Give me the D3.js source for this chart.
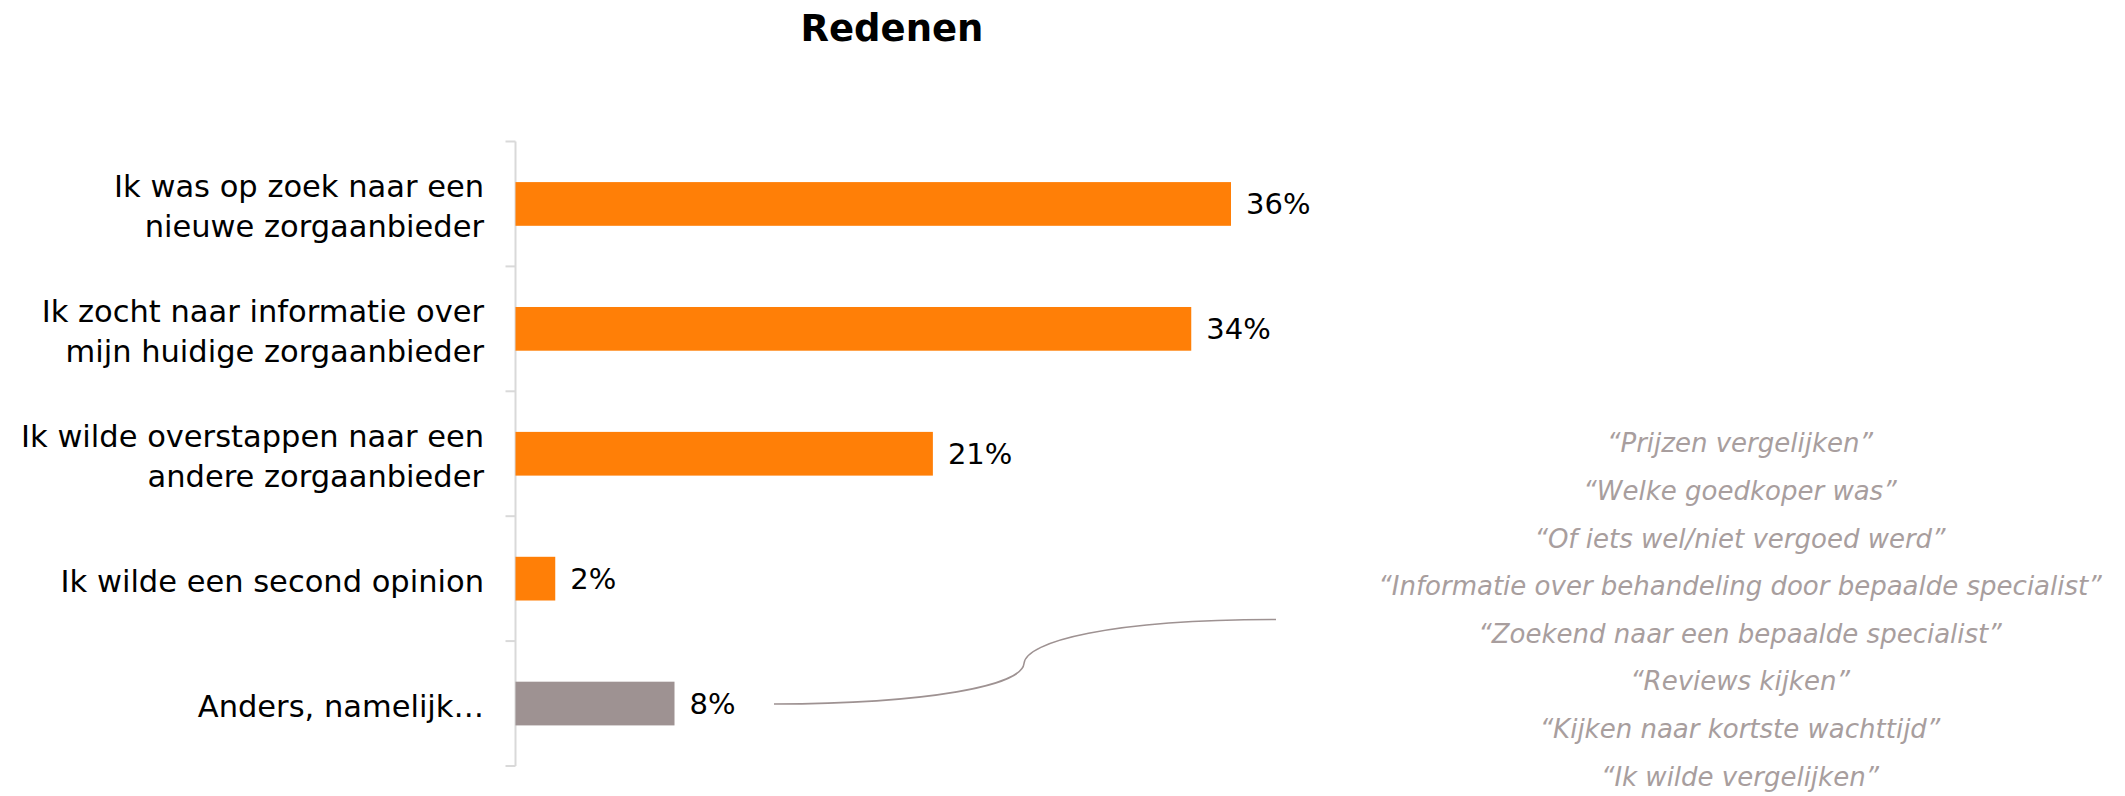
<!DOCTYPE html>
<html>
<head>
<meta charset="utf-8">
<script src="https://cdn.jsdelivr.net/npm/d3@7"></script>
<style>
  html, body { margin: 0; padding: 0; background: #ffffff; }
  svg { display: block; }
</style>
</head>
<body>
<svg id="chart" width="2125" height="796"></svg>
<script>
// Reasons for visiting a care-comparison site (share of respondents, %)
const categories = [
  ["Ik was op zoek naar een", "nieuwe zorgaanbieder"],
  ["Ik zocht naar informatie over", "mijn huidige zorgaanbieder"],
  ["Ik wilde overstappen naar een", "andere zorgaanbieder"],
  ["Ik wilde een second opinion"],
  ["Anders, namelijk…"]
];
const values = [36, 34, 21, 2, 8];
const barColors = ["#ff7f07", "#ff7f07", "#ff7f07", "#ff7f07", "#9e9292"];
const otherAnswers = [
  "“Prijzen vergelijken”",
  "“Welke goedkoper was”",
  "“Of iets wel/niet vergoed werd”",
  "“Informatie over behandeling door bepaalde specialist”",
  "“Zoekend naar een bepaalde specialist”",
  "“Reviews kijken”",
  "“Kijken naar kortste wachttijd”",
  "“Ik wilde vergelijken”"
];
const title = "Redenen";

const svg = d3.select("#chart");
const font = "'DejaVu Sans', sans-serif";

const x0 = 515.5;
const x = d3.scaleLinear().domain([0, 40]).range([x0, x0 + 795]);
const y = d3.scaleBand()
  .domain(d3.range(values.length))
  .range([141.5, 766])
  .paddingInner(0.65)
  .paddingOuter(0.325);

// Title
svg.append("text")
  .attr("x", 892).attr("y", 41)
  .attr("text-anchor", "middle")
  .attr("font-family", font)
  .attr("font-weight", 700)
  .attr("font-size", 37)
  .attr("fill", "#000")
  .text(title);

// Category axis: light vertical line with ticks between bands
const step = y.step();
const axisG = svg.append("g").attr("stroke", "#d9d9d9").attr("stroke-width", 2);
axisG.append("line")
  .attr("x1", x0).attr("x2", x0)
  .attr("y1", 141.5).attr("y2", 766);
d3.range(values.length + 1).forEach(i => {
  const yy = 141.5 + i * step;
  axisG.append("line")
    .attr("x1", x0 - 10).attr("x2", x0)
    .attr("y1", yy).attr("y2", yy);
});

// Bars
svg.append("g").selectAll("rect")
  .data(values)
  .join("rect")
  .attr("x", x(0))
  .attr("y", (d, i) => y(i))
  .attr("width", d => x(d) - x(0))
  .attr("height", y.bandwidth())
  .attr("fill", (d, i) => barColors[i]);

// Value labels
svg.append("g").selectAll("text")
  .data(values)
  .join("text")
  .attr("x", d => x(d) + 15)
  .attr("y", (d, i) => y(i) + y.bandwidth() / 2)
  .attr("dy", "0.36em")
  .attr("font-family", font)
  .attr("font-size", 29)
  .attr("fill", "#000")
  .text(d => d + "%");

// Category labels (right aligned, up to two lines)
const lineH = 40;
const catG = svg.append("g");
categories.forEach((lines, i) => {
  const cy = y(i) + y.bandwidth() / 2 + 2;
  const t = catG.append("text")
    .attr("text-anchor", "end")
    .attr("font-family", font)
    .attr("font-size", 30.5)
    .attr("fill", "#000");
  lines.forEach((ln, j) => {
    t.append("tspan")
      .attr("x", 484)
      .attr("y", cy + (j - (lines.length - 1) / 2) * lineH)
      .attr("dy", "0.36em")
      .text(ln);
  });
});

// Connector from the "Anders" bar to the list of open answers
const ay = y(4) + y.bandwidth() / 2;
svg.append("path")
  .attr("d", `M774,${ay + 0.5} C930,${ay} 1022,${ay - 18} 1024,${ay - 40} C1026,${ay - 62} 1110,${ay - 84} 1276,${ay - 84}`)
  .attr("fill", "none")
  .attr("stroke", "#9e9292")
  .attr("stroke-width", 1.6);

// Open answers
svg.append("g").selectAll("text")
  .data(otherAnswers)
  .join("text")
  .attr("x", 1740)
  .attr("y", (d, i) => 443 + i * 47.6)
  .attr("dy", "0.36em")
  .attr("text-anchor", "middle")
  .attr("font-family", font)
  .attr("font-style", "italic")
  .attr("font-size", 26)
  .attr("fill", "#a89e9e")
  .text(d => d);
</script>
</body>
</html>
